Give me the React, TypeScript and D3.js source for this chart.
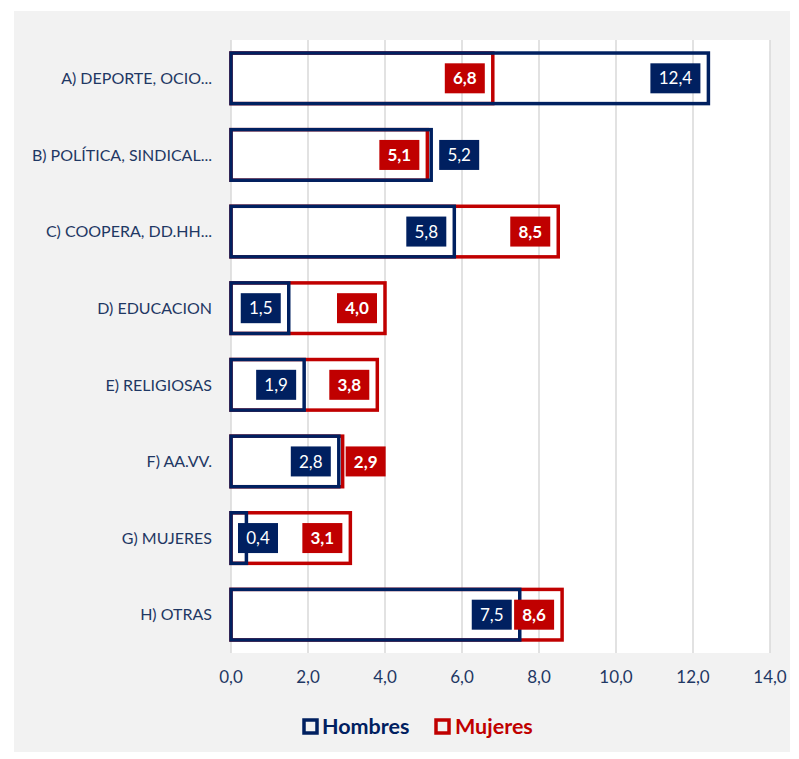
import React from "react";
import * as d3 from "d3";

const categories = [
  "A) DEPORTE, OCIO...",
  "B) POLÍTICA, SINDICAL...",
  "C) COOPERA, DD.HH...",
  "D) EDUCACION",
  "E) RELIGIOSAS",
  "F) AA.VV.",
  "G) MUJERES",
  "H) OTRAS",
];
const hombres = [12.4, 5.2, 5.8, 1.5, 1.9, 2.8, 0.4, 7.5];
const mujeres = [6.8, 5.1, 8.5, 4.0, 3.8, 2.9, 3.1, 8.6];
const xTicks = [0, 2, 4, 6, 8, 10, 12, 14];
const hombresLabelPos = ["in", "out", "in", "in", "in", "in", "base", "in"];
const mujeresLabelPos = ["in", "in", "in", "in", "in", "out", "in", "in"];

const BLUE = "#002060";
const RED = "#C00000";
const TXT = "#1F3864";
const FONT = "Lato, 'Open Sans', sans-serif";

const fmt = (v: number) => v.toFixed(1).replace(".", ",");

export default function App() {
  const x = d3.scaleLinear().domain([0, 14]).range([231, 770]);
  const y = d3
    .scaleBand<string>()
    .domain(categories)
    .range([40, 653])
    .paddingInner(0.34)
    .paddingOuter(0.17);
  const bw = y.bandwidth();

  const labelBox = (
    v: number,
    cat: string,
    pos: string,
    color: string,
    bold: boolean,
    outGap: number,
    key: string
  ) => {
    const t = fmt(v);
    const w = t.length * 10 + 10;
    const h = 30;
    const cy = (y(cat) as number) + bw / 2;
    let bx: number;
    if (pos === "out") bx = x(v) + outGap;
    else if (pos === "base") bx = x(0) + 7;
    else bx = x(v) - 8 - w;
    return (
      <g key={key}>
        <rect x={bx} y={cy - h / 2} width={w} height={h} fill={color} />
        <text
          x={bx + w / 2}
          y={cy}
          dy="0.36em"
          textAnchor="middle"
          fill="#fff"
          fontFamily={FONT}
          fontSize={17}
          fontWeight={bold ? 700 : 400}
        >
          {t}
        </text>
      </g>
    );
  };

  return (
    <svg
      width={799}
      height={759}
      style={{ position: "absolute", left: 0, top: 0 }}
    >
      <rect x={0} y={0} width={799} height={759} fill="#fff" />
      <rect x={14} y={11} width={776} height={741} fill="#f2f2f2" />
      <rect x={231} y={40} width={539} height={613} fill="#fff" />
      {xTicks.map((t) => (
        <line
          key={"g" + t}
          x1={x(t)}
          x2={x(t)}
          y1={40}
          y2={653}
          stroke="#d9d9d9"
          strokeWidth={1.5}
        />
      ))}
      {xTicks.map((t) => (
        <text
          key={"t" + t}
          x={x(t)}
          y={677}
          dy="0.36em"
          textAnchor="middle"
          fill={TXT}
          fontFamily={FONT}
          fontSize={17}
        >
          {fmt(t)}
        </text>
      ))}
      {categories.map((c) => (
        <text
          key={"c" + c}
          x={212}
          y={(y(c) as number) + bw / 2}
          dy="0.36em"
          textAnchor="end"
          fill={TXT}
          fontFamily={FONT}
          fontSize={16}
        >
          {c}
        </text>
      ))}
      {categories.map((c, i) => (
        <rect
          key={"m" + c}
          x={x(0)}
          y={y(c)}
          width={x(mujeres[i]) - x(0)}
          height={bw}
          fill="none"
          stroke={RED}
          strokeWidth={3.5}
        />
      ))}
      {categories.map((c, i) => (
        <rect
          key={"h" + c}
          x={x(0)}
          y={y(c)}
          width={x(hombres[i]) - x(0)}
          height={bw}
          fill="none"
          stroke={BLUE}
          strokeWidth={3.5}
        />
      ))}
      {categories.map((c, i) =>
        labelBox(mujeres[i], c, mujeresLabelPos[i], RED, true, 3, "lm" + i)
      )}
      {categories.map((c, i) =>
        labelBox(hombres[i], c, hombresLabelPos[i], BLUE, false, 8, "lh" + i)
      )}
      <g>
        <rect
          x={304}
          y={720}
          width={13}
          height={13}
          fill="none"
          stroke={BLUE}
          strokeWidth={3.5}
        />
        <text
          x={322}
          y={734}
          fill={BLUE}
          fontFamily={FONT}
          fontSize={21.5}
          fontWeight={700}
        >
          Hombres
        </text>
        <rect
          x={436}
          y={720}
          width={13}
          height={13}
          fill="none"
          stroke={RED}
          strokeWidth={3.5}
        />
        <text
          x={455}
          y={734}
          fill={RED}
          fontFamily={FONT}
          fontSize={21.5}
          fontWeight={700}
        >
          Mujeres
        </text>
      </g>
    </svg>
  );
}
